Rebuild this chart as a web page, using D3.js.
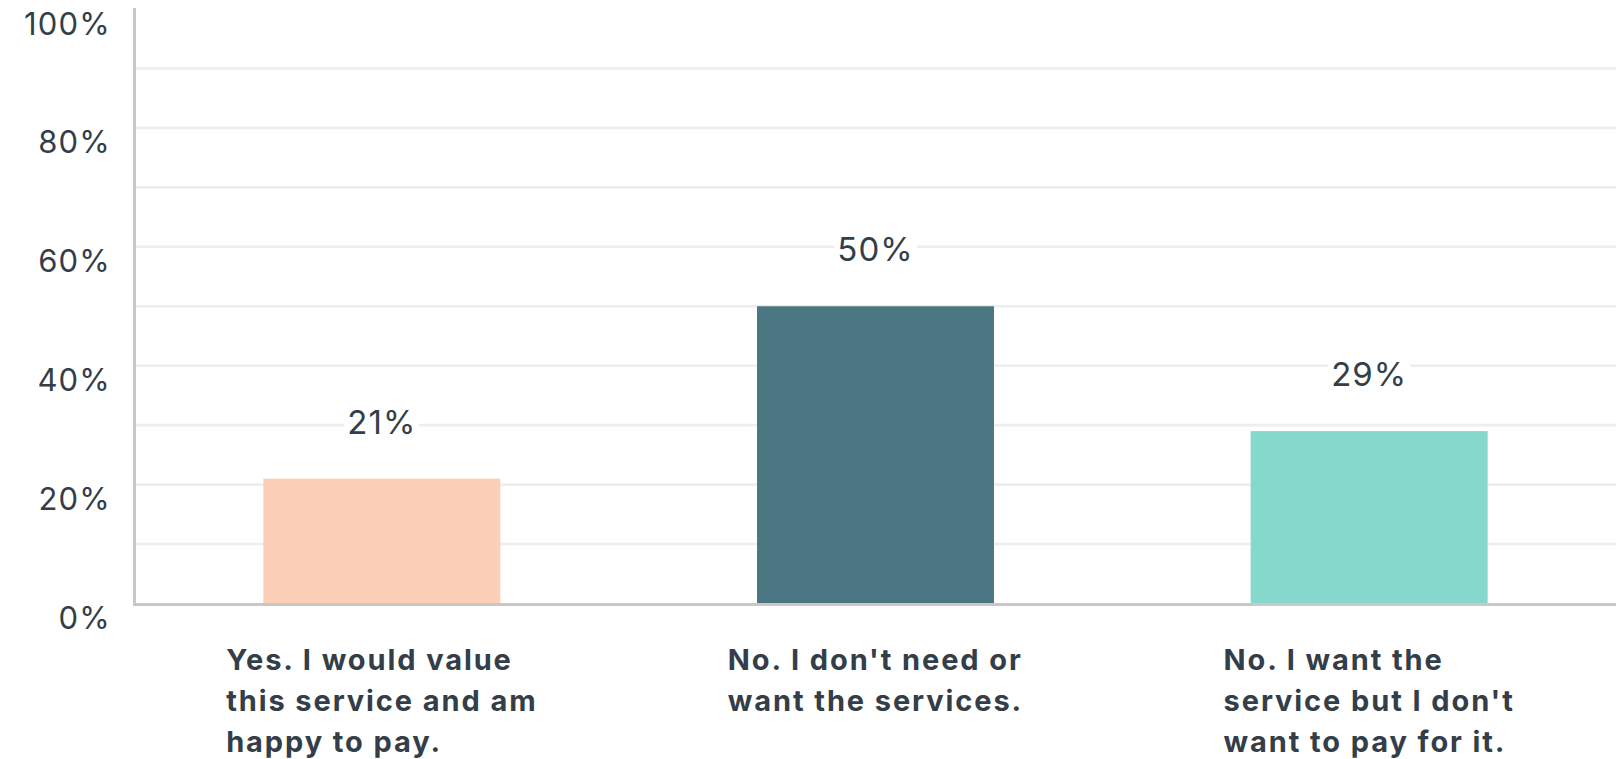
<!DOCTYPE html>
<html>
<head>
<meta charset="utf-8">
<script src="https://cdn.jsdelivr.net/npm/d3@7"></script>
<style>
  html, body { margin: 0; padding: 0; background: #ffffff; }
  svg { display: block; }
  text { font-family: Inter, "Noto Sans", sans-serif; fill: #333e48; }
</style>
</head>
<body>
<svg id="chart" width="1616" height="759"></svg>
<script>
// Survey answers and their shares (percent)
const categories = [
  "Yes. I would value this service and am happy to pay.",
  "No. I don't need or want the services.",
  "No. I want the service but I don't want to pay for it."
];
const categoryLines = [
  ["Yes. I would value", "this service and am", "happy to pay."],
  ["No. I don't need or", "want the services."],
  ["No. I want the", "service but I don't", "want to pay for it."]
];
const values = [21, 50, 29];
const barColors = ["#fbcfb8", "#4a7782", "#84d9cc"];
const yTicks = [0, 20, 40, 60, 80, 100];
const gridTicks = [10, 20, 30, 40, 50, 60, 70, 80, 90];

const plotLeft = 135, plotRight = 1616, plotTop = 9, plotBottom = 603.5;

const svg = d3.select("#chart");

const x = d3.scaleBand()
  .domain(categories)
  .range([plotLeft, plotRight])
  .paddingInner(0.52)
  .paddingOuter(0.26);

const y = d3.scaleLinear().domain([0, 100]).range([plotBottom, plotTop]);

// horizontal gridlines
svg.append("g")
  .selectAll("line")
  .data(gridTicks)
  .join("line")
  .attr("x1", plotLeft + 1)
  .attr("x2", plotRight)
  .attr("y1", d => y(d))
  .attr("y2", d => y(d))
  .attr("stroke", "#eeeeee")
  .attr("stroke-width", 2.6);

// y axis labels (sit slightly below their tick values)
svg.append("g")
  .selectAll("text")
  .data(yTicks)
  .join("text")
  .attr("x", 111)
  .attr("y", d => y(d) + 14)
  .attr("text-anchor", "end")
  .attr("dominant-baseline", "central")
  .style("font-size", "31px")
  .style("letter-spacing", "1.2px")
  .text(d => d + "%");

// bars
svg.append("g")
  .selectAll("rect")
  .data(values)
  .join("rect")
  .attr("x", (d, i) => x(categories[i]))
  .attr("width", x.bandwidth())
  .attr("y", d => y(d))
  .attr("height", d => y(0) - y(d))
  .attr("fill", (d, i) => barColors[i]);

// axis lines
svg.append("line")
  .attr("x1", 134.5).attr("x2", 134.5)
  .attr("y1", 8).attr("y2", 606)
  .attr("stroke", "#c8c8c8").attr("stroke-width", 3);
svg.append("line")
  .attr("x1", 134.5).attr("x2", plotRight)
  .attr("y1", 604.5).attr("y2", 604.5)
  .attr("stroke", "#c8c8c8").attr("stroke-width", 3);

// value labels with white backing
const vl = svg.append("g")
  .selectAll("g")
  .data(values)
  .join("g");
vl.append("text")
  .attr("x", (d, i) => x(categories[i]) + x.bandwidth() / 2)
  .attr("y", d => y(d) - 45)
  .attr("text-anchor", "middle")
  .style("font-size", "33px")
  .style("letter-spacing", "1px")
  .text(d => d + "%");
vl.each(function () {
  const g = d3.select(this);
  const b = g.select("text").node().getBBox();
  g.insert("rect", "text")
    .attr("x", b.x - 3)
    .attr("y", b.y + 4)
    .attr("width", b.width + 6)
    .attr("height", b.height - 6)
    .attr("fill", "#ffffff");
});

// category labels: left-aligned block centred under each bar
const cl = svg.append("g")
  .selectAll("text")
  .data(categoryLines)
  .join("text")
  .style("font-size", "29px")
  .style("font-weight", "700")
  .style("letter-spacing", "1.9px");
cl.each(function (lines, i) {
  const t = d3.select(this);
  lines.forEach((ln, j) => {
    t.append("tspan").attr("x", 0).attr("y", 670 + j * 41).text(ln);
  });
  let maxW = 0;
  t.selectAll("tspan").each(function () {
    maxW = Math.max(maxW, this.getComputedTextLength());
  });
  const cx = x(categories[i]) + x.bandwidth() / 2;
  t.selectAll("tspan").attr("x", cx - maxW / 2);
});
</script>
</body>
</html>
